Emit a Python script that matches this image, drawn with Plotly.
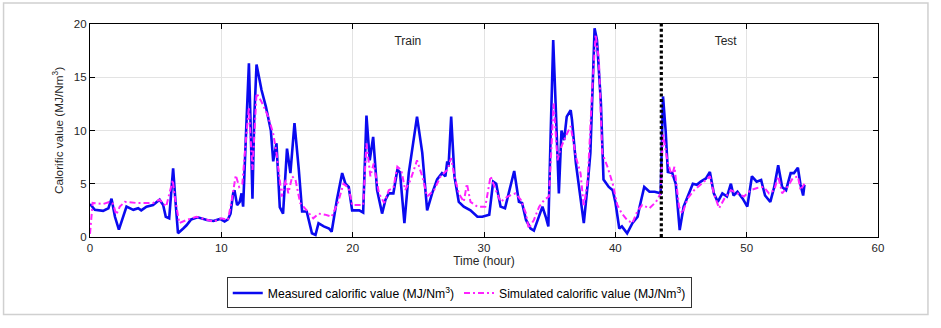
import plotly.graph_objects as go

# ---- data ----
time_measured = [0, 0.37, 1.0, 1.4, 1.64, 1.9, 2.2, 2.5, 2.78, 3.3, 3.67, 3.9, 4.3, 4.8, 5.3, 5.57, 5.77, 6.03,
                 6.33, 6.5, 6.7, 7.1, 7.35, 7.7, 8.2, 8.9, 9.4, 9.9, 10.25, 10.5, 10.7, 10.9, 11.0, 11.2, 11.4,
                 11.54, 11.66, 11.87, 12.1, 12.22, 12.37, 12.5, 12.68, 13.06, 13.4, 13.77, 13.95, 14.2, 14.45,
                 14.7, 15.0, 15.26, 15.57, 15.9, 16.15, 16.5, 16.9, 17.17, 17.4, 17.8, 18.2, 18.4, 18.8, 19.2,
                 19.45, 19.7, 19.96, 20.5, 20.8, 21.05, 21.3, 21.56, 21.86, 22.24, 22.5, 22.75, 23.1, 23.4,
                 23.6, 23.94, 24.27, 24.9, 25.3, 25.67, 26.05, 26.43, 26.8, 27.06, 27.2, 27.3, 27.5, 27.75,
                 28.08, 28.46, 28.97, 29.5, 29.87, 30.4, 30.7, 30.93, 31.26, 31.6, 31.9, 32.3, 32.66, 32.9,
                 33.2, 33.55, 33.8, 34.2, 34.45, 34.7, 34.9, 35.07, 35.27, 35.45, 35.7, 35.9, 36.1, 36.3,
                 36.6, 36.7, 37.0, 37.3, 37.6, 37.9, 38.1, 38.3, 38.42, 38.6, 38.9, 39.1, 39.5, 39.8, 40.0,
                 40.3, 40.5, 40.9, 41.3, 41.7, 41.85, 42.2, 42.6, 43.0, 43.3, 43.45, 43.63, 43.83, 44.0,
                 44.34, 44.6, 44.9, 45.2, 45.6, 45.9, 46.2, 46.5, 46.9, 47.2, 47.5, 47.8, 48.15, 48.5, 48.8,
                 49.0, 49.3, 49.7, 50.05, 50.4, 50.76, 51.1, 51.4, 51.8, 52.1, 52.4, 52.7, 53.0, 53.35,
                 53.6, 53.9, 54.1, 54.3, 54.4]
measured = [3.1, 2.55, 2.45, 2.7, 3.6, 1.9, 0.7, 1.9, 2.85, 2.55, 2.7, 2.5, 2.85, 3.0, 3.5, 3.0, 1.9, 1.75,
            6.45, 3.5, 0.35, 0.8, 1.1, 1.65, 1.85, 1.6, 1.5, 1.7, 1.45, 1.65, 2.2, 4.1, 4.4, 3.0, 3.3,
            4.1, 2.85, 9.4, 16.3, 11.0, 3.6, 11.0, 16.2, 13.8, 12.2, 10.0, 7.1, 8.8, 2.8,
            2.2, 8.3, 6.0, 10.7, 6.3, 2.4, 2.4, 0.35, 0.2, 1.3, 1.0, 0.8, 0.5, 3.5, 6.0,
            5.0, 4.7, 2.5, 2.5, 2.3, 11.4, 7.2, 9.4, 4.4, 2.2, 3.5, 4.1, 4.1, 6.3,
            6.1, 1.3, 6.0, 11.3, 7.9, 2.5, 4.1, 5.4, 6.0, 5.7, 7.1, 6.6, 11.3, 5.7,
            3.3, 2.85, 2.5, 1.9, 1.9, 2.1, 5.2, 5.0, 2.85, 2.7, 4.1, 6.2, 3.3, 3.2,
            1.6, 0.8, 0.6, 1.9, 2.85, 1.9, 1.0, 9.4, 18.5, 12.6, 4.1, 10.0, 9.1, 11.3,
            11.9, 11.0, 6.9, 4.1, 1.3, 5.0, 7.9, 15.1, 19.6, 18.5, 12.6, 5.4, 4.7, 4.4, 3.3,
            0.8, 1.0, 0.35, 1.3, 1.9, 2.85, 4.7, 4.25, 4.25, 4.1, 4.1, 13.2, 10.0, 6.1,
            6.0, 5.0, 0.65, 2.85, 4.1, 5.0, 4.9, 5.2, 5.5, 6.1, 4.1, 3.3, 4.1, 3.8, 5.0,
            3.9, 4.25, 3.6, 2.85, 5.7, 5.2, 5.35, 3.9, 3.3, 4.7, 6.75, 4.7, 4.4, 6.0,
            6.0, 6.5, 4.9, 3.9, 4.9]

time_simulated = [0, 0.2, 1.0, 1.5, 1.76, 2.0, 2.27, 2.65, 3.5, 4.8, 5.3, 5.8, 6.3, 6.45, 6.8, 7.35, 8.1,
                  8.9, 9.4, 10.0, 10.5, 10.8, 11.1, 11.36, 11.6, 11.87, 12.1, 12.37, 12.68, 13.06, 13.57,
                  13.95, 14.2, 14.6, 14.9, 15.1, 15.4, 15.65, 16.0, 16.5, 17.0, 17.4, 17.9, 18.4, 18.9,
                  19.3, 19.7, 19.96, 20.8, 21.05, 21.35, 21.6, 22.0, 22.4, 22.75, 23.1, 23.4, 23.7, 24.0,
                  24.4, 24.9, 25.3, 25.67, 26.2, 26.7, 27.2, 27.5, 27.75, 28.08, 28.46, 28.7, 28.97, 29.5,
                  30.1, 30.5, 30.9, 31.26, 31.8, 32.4, 32.8, 33.2, 33.4, 33.8, 34.2, 34.6, 34.95, 35.15,
                  35.3, 35.6, 35.8, 36.2, 36.6, 37.0, 37.35, 37.6, 37.9, 38.25, 38.5, 38.75, 39.0, 39.4,
                  39.8, 40.15, 40.5, 40.9, 41.3, 41.7, 42.05, 42.6, 43.1, 43.45, 43.63, 43.96, 44.3, 44.5,
                  44.85, 45.1, 45.5, 46.0, 46.5, 46.9, 47.2, 47.5, 47.9, 48.3, 48.8, 49.3, 49.8, 50.3,
                  50.8, 51.3, 51.7, 52.1, 52.4, 52.7, 53.1, 53.5, 53.9, 54.1, 54.4]
simulated = [0.3, 3.2, 3.1, 3.3, 3.1, 2.1, 2.85, 3.3, 3.2, 3.2, 3.5, 2.85, 5.35, 3.8, 1.3, 1.6, 1.9,
             1.6, 1.45, 1.75, 1.6, 3.5, 5.8, 4.7, 5.0, 9.1, 12.2, 6.3, 13.5, 12.7, 11.3,
             9.7, 7.9, 3.8, 5.35, 4.1, 5.7, 5.35, 3.2, 2.5, 1.75, 2.2, 2.1, 1.9, 3.3,
             5.0, 4.6, 3.0, 3.0, 8.8, 5.7, 6.9, 4.1, 3.2, 4.4, 4.6, 6.6, 6.3, 4.4,
             5.35, 7.2, 5.7, 3.8, 4.4, 5.7, 6.3, 7.4, 5.7, 4.1, 3.3, 5.0, 3.3, 2.85,
             2.85, 5.7, 4.4, 3.3, 3.8, 4.1, 3.5, 2.2, 0.8, 1.6, 2.85, 3.5, 3.8, 8.5,
             12.6, 7.2, 8.2, 9.4, 10.4, 7.5, 6.0, 2.85, 5.35, 14.1, 19.0, 16.6, 7.9, 6.6,
             5.0, 3.0, 2.2, 1.6, 1.3, 2.5, 3.0, 2.7, 3.3, 4.1, 9.7, 7.2, 5.7, 6.6,
             2.85, 2.2, 3.6, 4.4, 4.9, 5.35, 5.7, 4.1, 2.7, 3.6, 4.4, 4.1, 3.8, 4.4,
             4.6, 4.7, 4.1, 4.4, 5.7, 4.1, 4.7, 5.5, 5.7, 4.4, 5.0]

split_time = 43.5
x_ticks = [0, 10, 20, 30, 40, 50, 60]
y_ticks = [0, 5, 10, 15, 20]
region_labels = ["Train", "Test"]
region_label_x = [24.2, 48.4]
region_label_y = [18.3, 18.3]

FONT = "Liberation Sans, Arial, Helvetica, sans-serif"
TXT = "#262626"

fig = go.Figure()
fig.add_trace(go.Scatter(
    x=time_measured, y=measured, mode="lines",
    name="Measured calorific value (MJ/Nm<sup>3</sup>)",
    line=dict(color="#0a0af0", width=2.6),
))
fig.add_trace(go.Scatter(
    x=time_simulated, y=simulated, mode="lines",
    name="Simulated calorific value (MJ/Nm<sup>3</sup>)",
    line=dict(color="#ff22ff", width=2, dash="6px,3px,2px,3px"),
))
fig.add_trace(go.Scatter(
    x=[split_time, split_time], y=[y_ticks[0], y_ticks[-1]], mode="lines",
    showlegend=False, hoverinfo="skip",
    line=dict(color="black", width=3.2, dash="3px,2.4px"),
))
fig.add_trace(go.Scatter(
    x=region_label_x, y=region_label_y, mode="text", text=region_labels,
    textfont=dict(family=FONT, size=12, color=TXT), showlegend=False, hoverinfo="skip",
))

axis_common = dict(
    showgrid=True, gridcolor="#e3e3e3", gridwidth=1,
    showline=True, linecolor="black", linewidth=1.2, mirror="ticks",
    ticks="inside", ticklen=5, tickcolor="black", tickwidth=1,
    zeroline=False,
    tickfont=dict(family=FONT, size=11.5, color=TXT),
)
fig.update_xaxes(range=[x_ticks[0], x_ticks[-1]], tickvals=x_ticks,
                 title=dict(text="Time (hour)", font=dict(family=FONT, size=12, color=TXT), standoff=1),
                 **axis_common)
fig.update_yaxes(range=[y_ticks[0], y_ticks[-1]], tickvals=y_ticks,
                 title=dict(text="Calorific value (MJ/Nm<sup>3</sup>)", font=dict(family=FONT, size=11.8, color=TXT), standoff=7),
                 **axis_common)

# outer light frame of the figure
fig.add_shape(type="rect", xref="paper", yref="paper",
              x0=-0.1097, x1=1.0634, y0=-0.364, y1=1.0985,
              line=dict(color="#d0d0d0", width=1.5), fillcolor="rgba(0,0,0,0)", layer="below")

fig.update_layout(
    width=941, height=328,
    margin=dict(l=89.5, r=63, t=24, b=90.7),
    paper_bgcolor="white", plot_bgcolor="white",
    font=dict(family=FONT, size=11, color=TXT),
    legend=dict(orientation="h", x=0.4686, xanchor="center", y=-0.19, yanchor="top",
                bgcolor="white", bordercolor="#333333", borderwidth=1,
                font=dict(family=FONT, size=12.2, color="black"),
                itemwidth=30, tracegroupgap=0, entrywidth=0),
    showlegend=True,
)

fig.write_html("out.html")
